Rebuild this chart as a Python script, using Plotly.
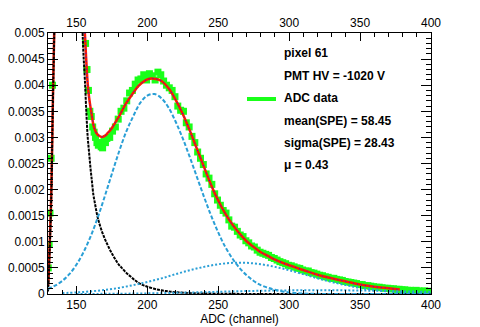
import plotly.graph_objects as go

# ---- data --------------------------------------------------------------------

# pedestal (black dashed), rising edge + falling edge, peak is off the top
PED_X = [130.0, 130.5, 131.0, 131.5, 132.0, 132.5, 133.0, 133.5, 134.0, 134.5, 135.2, None,
         153.5, 154.4, 155, 156, 157, 158, 159, 160, 161, 162, 163, 164, 165, 166, 168, 170,
         172, 174, 176, 178, 180, 182, 185, 188, 191, 194, 197, 200, 205, 210, 215, 220,
         230, 240, 260, 300, 400]
PED_Y = [0.00005, 0.0003, 0.0007, 0.0011, 0.0015, 0.0021, 0.0029, 0.0037, 0.0044, 0.0051, 0.0062, None,
         0.0060, 0.0050, 0.0046, 0.0041, 0.0035, 0.0030, 0.0027, 0.0024, 0.00215, 0.0019, 0.00175,
         0.0016, 0.00147, 0.00137, 0.0012, 0.00106, 0.00094, 0.00083, 0.00073, 0.00064, 0.00056,
         0.0005, 0.00041, 0.00034, 0.00027, 0.00021, 0.00017, 0.00014, 0.0001, 0.00007, 0.00005,
         0.000035, 0.000018, 0.00001, 0.000003, 0.0, 0.0]

# single photo-electron gaussian (blue dashed)
SPE_X = [130, 135, 140, 145, 150, 155, 160, 165, 170, 175, 180, 185, 190, 195, 200, 205, 210,
         215, 220, 225, 230, 235, 240, 245, 250, 255, 260, 265, 270, 275, 280, 285, 290, 300,
         310, 320, 340, 400]
SPE_Y = [0.0001, 0.00016, 0.00025, 0.00038, 0.00056, 0.0008, 0.0011, 0.00146, 0.00187, 0.0023,
         0.00272, 0.0031, 0.0034, 0.00366, 0.0038, 0.00383, 0.00375, 0.00357, 0.0033, 0.00298,
         0.00262, 0.00224, 0.00186, 0.0015, 0.00118, 0.0009, 0.00068, 0.0005, 0.00036, 0.00025,
         0.00017, 0.00012, 0.00008, 0.00003, 0.00001, 0.000003, 0.0, 0.0]

# two photo-electron gaussian (blue dotted)
PE2_X = [140, 150, 160, 170, 180, 190, 200, 210, 220, 230, 240, 250, 260, 270, 280, 290, 300,
         310, 320, 330, 340, 350, 360, 370, 380, 390, 400]
PE2_Y = [0.000017, 0.00003, 0.00005, 0.000078, 0.000117, 0.00017, 0.00023, 0.0003, 0.00038,
         0.000455, 0.00052, 0.00057, 0.000597, 0.000597, 0.00057, 0.00052, 0.000455, 0.00038,
         0.0003, 0.00023, 0.00017, 0.000117, 0.000078, 0.00005, 0.00003, 0.000017, 0.00001]

# three photo-electron gaussian (blue dotted, near the floor)
PE3_X = [150, 180, 200, 220, 240, 260, 280, 300, 320, 340, 360, 380, 400]
PE3_Y = [0.0, 0.000005, 0.000012, 0.000022, 0.000035, 0.00005, 0.000062, 0.00007, 0.000072,
         0.00007, 0.000062, 0.00005, 0.00004]

# total fit (red)
FIT_X = [130.0, 130.5, 131.0, 131.5, 132.0, 132.5, 133.0, 133.5, 134.0, 134.5, 135.2, None,
         154.5, 156, 157, 158, 159, 160, 161, 162, 163, 164, 166, 168, 170, 172, 174, 176, 178,
         180, 182, 185, 188, 191, 194, 197, 200, 203, 206, 210, 215, 220, 225, 230, 235, 240,
         245, 250, 255, 260, 265, 270, 275, 280, 285, 290, 300, 310, 320, 330, 340, 350, 360,
         370, 378]
FIT_Y = [0.00015, 0.0004, 0.0008, 0.0012, 0.0016, 0.0022, 0.003, 0.0038, 0.0045, 0.0052, 0.0063, None,
         0.0060, 0.0050, 0.00446, 0.00402, 0.00376, 0.00357, 0.0034, 0.00324, 0.00315, 0.00309,
         0.00303, 0.00301, 0.00303, 0.00308, 0.00314, 0.00322, 0.00331, 0.0034, 0.0035, 0.00365,
         0.00377, 0.00389, 0.00399, 0.00406, 0.00411, 0.00413, 0.00412, 0.00408, 0.00394, 0.00372,
         0.00345, 0.00313, 0.00278, 0.00243, 0.00209, 0.00179, 0.00154, 0.00133, 0.00116, 0.00101,
         0.0009, 0.0008, 0.00073, 0.00066, 0.00055, 0.00046, 0.00037, 0.0003, 0.00024, 0.00018,
         0.00014, 0.00011, 0.000085]

# ADC histogram (green squares)
ADC_X = [130.2, 130.8, 131.4, 132.2, 133.2,
         156.5, 157.5, 158.5, 159.5, 160.5, 161.5, 162.5, 163.5, 164.5, 165.5, 166.5, 167.5,
         168.5, 169.5, 170.5, 171.5, 173.5, 175.5, 177.5, 179.5, 181.5, 183.5, 185.5, 187.5,
         189.5, 191.5, 193.5, 195.5, 197.5, 199.5, 201.5, 203.5, 205.5, 207.5, 209.5, 211.5,
         213.5, 215.5, 217.5, 219.5, 221.5, 223.5, 225.5, 227.5, 229.5, 231.5, 233.5, 235.5,
         237.5, 239.5, 241.5, 243.5, 245.5, 247.5, 249.5, 251.5, 253.5, 255.5, 257.5, 259.5,
         261.5, 263.5, 265.5, 267.5, 269.5, 271.5, 273.5, 275.5, 277.5, 279.5, 281.5, 283.5,
         285.5, 287.5, 289.5, 291.5, 293.5, 295.5, 297.5, 299.5, 301.5, 303.5, 305.5, 307.5,
         309.5, 311.5, 313.5, 315.5, 317.5, 319.5, 321.5, 323.5, 325.5, 327.5, 329.5, 331.5,
         333.5, 335.5, 337.5, 339.5, 341.5, 343.5, 345.5, 347.5, 349.5, 351.5, 353.5, 355.5,
         357.5, 359.5, 361.5, 363.5, 365.5, 367.5, 369.5, 371.5, 373.5, 375.5, 377.5, 379.5,
         381.5, 383.5, 385.5, 387.5, 389.5, 391.5, 393.5, 395.5, 397.5, 399.5]
ADC_Y = [0.0005, 0.00095, 0.00155, 0.0026, 0.004,
         0.0048, 0.0043, 0.0039, 0.0035, 0.0034, 0.0032, 0.0031, 0.0030, 0.0029, 0.00285, 0.0029,
         0.00282, 0.0028, 0.00292, 0.0029, 0.00298, 0.0030, 0.00312, 0.0032, 0.00335, 0.0035,
         0.00356, 0.0037, 0.00385, 0.0039, 0.00402, 0.0041, 0.00412, 0.0042, 0.0041, 0.00422,
         0.00418, 0.0041, 0.00425, 0.0042, 0.00408, 0.0040, 0.00395, 0.0039, 0.00378, 0.0036,
         0.00352, 0.0035, 0.00328, 0.0032, 0.00302, 0.0029, 0.00272, 0.0026, 0.00248, 0.0023,
         0.00222, 0.0021, 0.00192, 0.0018, 0.0017, 0.0016, 0.00155, 0.00142, 0.0013, 0.00128,
         0.0012, 0.00113, 0.0011, 0.00102, 0.00098, 0.00092, 0.0009, 0.00084, 0.0008, 0.00078,
         0.00076, 0.00074, 0.0007, 0.00068, 0.00065, 0.00062, 0.0006, 0.00058, 0.00055, 0.00054,
         0.00052, 0.0005, 0.00049, 0.00046, 0.00044, 0.00044, 0.00041, 0.0004, 0.00038, 0.00036,
         0.00035, 0.00033, 0.00032, 0.0003, 0.0003, 0.00028, 0.00027, 0.00026, 0.00024, 0.00023,
         0.00022, 0.00021, 0.0002, 0.00018, 0.00018, 0.00016, 0.00016, 0.00015, 0.00014, 0.00013,
         0.00013, 0.00012, 0.00011, 0.00011, 0.0001, 0.0001, 0.00009, 0.00009, 0.00008, 0.00008,
         0.00007, 0.00007, 0.00006, 0.00007, 0.00006, 0.00005, 0.00006, 0.00005, 0.00005]

X_TICKS = [150, 200, 250, 300, 350, 400]
Y_TICKS = [0, 0.0005, 0.001, 0.0015, 0.002, 0.0025, 0.003, 0.0035, 0.004, 0.0045, 0.005]
Y_TICK_TEXT = ["0", "0.0005", "0.001", "0.0015", "0.002", "0.0025", "0.003", "0.0035",
               "0.004", "0.0045", "0.005"]

INFO_LINES = ["pixel 61", "PMT HV = -1020 V", "ADC data", "mean(SPE) = 58.45",
              "sigma(SPE) = 28.43", "\u03bc = 0.43"]

GREEN = "#19ff19"
BLUE = "#2a9fd6"
FONT = "Liberation Sans, Arial, sans-serif"

# plot area in pixels (reference): x 48..431, y 33..294
W, H = 480, 327
L, R, T, B = 48, 49, 33, 33


def px_to_paper(px, py):
    return (px - L) / (W - L - R), (H - B - py) / (H - T - B)


fig = go.Figure()

fig.add_trace(go.Scatter(x=ADC_X, y=ADC_Y, mode="markers",
                         marker=dict(symbol="square", size=7, color=GREEN)))
fig.add_trace(go.Scatter(x=FIT_X, y=FIT_Y, mode="lines", line_shape="spline",
                         line=dict(color="#ff1a00", width=2.5)))
fig.add_trace(go.Scatter(x=FIT_X, y=FIT_Y, mode="lines", line_shape="spline",
                         line=dict(color="#1a1aff", width=1, dash="1px,3px")))
fig.add_trace(go.Scatter(x=PED_X, y=PED_Y, mode="lines", line_shape="spline",
                         line=dict(color="black", width=2, dash="3px,1px")))
fig.add_trace(go.Scatter(x=SPE_X, y=SPE_Y, mode="lines", line_shape="spline",
                         line=dict(color=BLUE, width=2, dash="4px,2px")))
fig.add_trace(go.Scatter(x=PE2_X, y=PE2_Y, mode="lines", line_shape="spline",
                         line=dict(color=BLUE, width=2, dash="2px,2px")))
fig.add_trace(go.Scatter(x=PE3_X, y=PE3_Y, mode="lines", line_shape="spline",
                         line=dict(color=BLUE, width=2, dash="2px,2px")))
# dummy trace so the top axis gets drawn
fig.add_trace(go.Scatter(x=[130, 400], y=[0, 0], xaxis="x2", mode="markers",
                         marker=dict(opacity=0), hoverinfo="skip"))

axis_common = dict(showgrid=False, zeroline=False, showline=True, linecolor="black",
                   linewidth=1, ticks="inside", tickcolor="black", automargin=False,
                   tickfont=dict(family=FONT, size=12, color="black"))

fig.update_layout(
    width=W, height=H,
    margin=dict(l=L, r=R, t=T, b=B, autoexpand=False),
    plot_bgcolor="white", paper_bgcolor="white",
    showlegend=False,
    font=dict(family=FONT, size=12, color="black"),
    xaxis=dict(range=[130, 400], tickvals=X_TICKS, ticklen=8,
               minor=dict(dtick=10, tick0=0, ticks="inside", ticklen=4, tickcolor="black"),
               title=dict(text="ADC (channel)", font=dict(family=FONT, size=12), standoff=2),
               **axis_common),
    xaxis2=dict(range=[130, 400], overlaying="x", side="top", tickvals=X_TICKS, ticklen=8,
                minor=dict(dtick=10, tick0=0, ticks="inside", ticklen=4, tickcolor="black"),
                **axis_common),
    yaxis=dict(range=[0, 0.005], tickvals=Y_TICKS, ticktext=Y_TICK_TEXT, ticklen=10,
               mirror="ticks",
               minor=dict(dtick=0.0001, tick0=0, ticks="inside", ticklen=5, tickcolor="black"),
               **axis_common),
)

# info box text
line_y = [53, 76, 98, 121, 143, 165]
for txt, py in zip(INFO_LINES, line_y):
    ax, ay = px_to_paper(282, py)
    fig.add_annotation(x=ax, y=ay, xref="paper", yref="paper",
                       text="<b>" + txt + "</b>", showarrow=False, xanchor="left",
                       yanchor="middle", font=dict(family=FONT, size=12, color="black"))

# green swatch for "ADC data"
sx0, sy = px_to_paper(247, 99)
sx1, _ = px_to_paper(276, 99)
fig.add_shape(type="line", xref="paper", yref="paper", x0=sx0, x1=sx1, y0=sy, y1=sy,
              line=dict(color=GREEN, width=4))

# the page body has a default 8px margin; drop it so the figure sits at 0,0
fig.write_html("out.html", config={"displayModeBar": False},
               post_script="document.body.style.margin='0px';")
